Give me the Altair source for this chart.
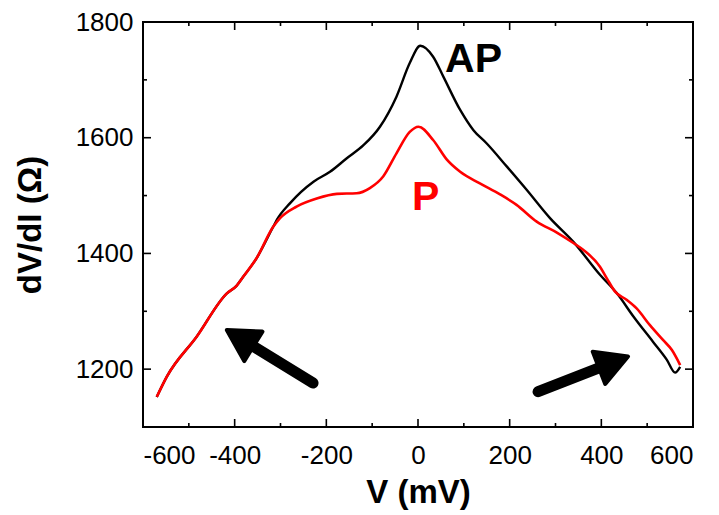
import altair as alt
import pandas as pd

# ---- data ----
v_ap = [-570, -548, -483, -417, -396, -381, -352, -316, -308, -279, -228, -192, -156, -119, -83, -47, -18, 5, 33, 55, 92, 121, 150, 194, 237, 288, 339, 397, 434, 470, 513, 543, 561, 572]
r_ap = [1152, 1187, 1256, 1331, 1344, 1360, 1392, 1446, 1458, 1487, 1524, 1541, 1564, 1587, 1619, 1671, 1729, 1759, 1740, 1706, 1648, 1613, 1590, 1550, 1510, 1461, 1420, 1363, 1331, 1291, 1247, 1216, 1194, 1204]

v_p = [-570, -548, -483, -417, -396, -381, -352, -316, -301, -265, -221, -177, -134, -105, -76, -47, -18, 1, 33, 63, 92, 135, 179, 215, 259, 303, 339, 361, 397, 412, 430, 455, 477, 506, 535, 554, 572]
r_p = [1152, 1187, 1256, 1331, 1344, 1360, 1392, 1446, 1461, 1481, 1495, 1503, 1504, 1513, 1533, 1573, 1610, 1619, 1596, 1562, 1541, 1521, 1502, 1484, 1455, 1436, 1418, 1406, 1377, 1357, 1334, 1320, 1305, 1276, 1250, 1233, 1207]

x_labels = [-600, -400, -200, 0, 200, 400, 600]
y_labels = [1200, 1400, 1600, 1800]
x_major = [-400, -200, 0, 200, 400]
x_minor = [-500, -300, -100, 100, 300, 500]
y_major = [1200, 1400, 1600]
y_minor = [1300, 1500, 1700]

label_text = ["AP", "P"]
label_v = [59, -13]
label_r = [1714, 1475]
label_color = ["black", "#ff0000"]

arrow_tail_v = [-229, 262]
arrow_tail_r = [1176, 1161]
arrow_head_v = [-385, 423]
arrow_head_r = [1252, 1211]
arrow_angle = [301.7, 68.8]

# ---- chart ----
W, H = 550, 405
FONT = "Liberation Sans"
MAJ, MIN = 8, 4

xs = alt.Scale(domain=[-600, 600], nice=False, zero=False)
ys = alt.Scale(domain=[1100, 1800], nice=False, zero=False)
xaxis = alt.Axis(values=x_labels, title="V (mV)", ticks=False, domain=False, grid=False,
                 labelExpr="'' + datum.value", labelPadding=15, titlePadding=8)
yaxis = alt.Axis(values=y_labels, title="dV/dI (Ω)", ticks=False, domain=False, grid=False,
                 labelExpr="'' + datum.value", labelPadding=10, titlePadding=28)


def X(f):
    return alt.X(f, type="quantitative", scale=xs, axis=xaxis)


def Y(f):
    return alt.Y(f, type="quantitative", scale=ys, axis=yaxis)


df_ap = pd.DataFrame({"V": v_ap, "R": r_ap})
df_p = pd.DataFrame({"V": v_p, "R": r_p})

line_ap = alt.Chart(df_ap).mark_line(color="black", strokeWidth=2.4, interpolate="monotone").encode(
    x=X("V"), y=Y("R"))
line_p = alt.Chart(df_p).mark_line(color="#ff0000", strokeWidth=2.6, interpolate="monotone").encode(
    x=X("V"), y=Y("R"))


def xticks(vals, ln):
    d = pd.DataFrame({"t": vals})
    bot = alt.Chart(d).mark_rule(color="black", strokeWidth=1.6).encode(
        x=X("t"), y=alt.value(H), y2=alt.value(H - ln))
    top = alt.Chart(d).mark_rule(color="black", strokeWidth=1.6).encode(
        x=X("t"), y=alt.value(0), y2=alt.value(ln))
    return [bot, top]


def yticks(vals, ln):
    d = pd.DataFrame({"t": vals})
    left = alt.Chart(d).mark_rule(color="black", strokeWidth=1.6).encode(
        y=Y("t"), x=alt.value(0), x2=alt.value(ln))
    right = alt.Chart(d).mark_rule(color="black", strokeWidth=1.6).encode(
        y=Y("t"), x=alt.value(W), x2=alt.value(W - ln))
    return [left, right]


tick_layers = xticks(x_major, MAJ) + xticks(x_minor, MIN) + yticks(y_major, MAJ) + yticks(y_minor, MIN)

df_lab = pd.DataFrame({"txt": label_text, "V": label_v, "R": label_r, "c": label_color})
labels = alt.Chart(df_lab).mark_text(align="left", baseline="alphabetic", fontSize=41,
                                     fontWeight="bold", font=FONT).encode(
    x=X("V"), y=Y("R"), text="txt:N", color=alt.Color("c:N", scale=None))

df_arr = pd.DataFrame({"tv": arrow_tail_v, "tr": arrow_tail_r, "hv": arrow_head_v,
                       "hr": arrow_head_r, "ang": arrow_angle})
shafts = alt.Chart(df_arr).mark_rule(color="black", strokeWidth=11, strokeCap="round").encode(
    x=X("tv"), y=Y("tr"), x2="hv:Q", y2="hr:Q")
heads = alt.Chart(df_arr).mark_point(shape="M0,-1L-1,0.8L1,0.8Z", size=1200, filled=True,
                                     fill="black", stroke="black", strokeWidth=4,
                                     strokeJoin="round", opacity=1).encode(
    x=X("hv"), y=Y("hr"), angle=alt.Angle("ang:Q", scale=None))

chart = alt.layer(line_ap, line_p, *tick_layers, labels, shafts, heads).properties(
    width=W, height=H,
    autosize=alt.AutoSizeParams(type="none"),
    padding={"left": 135, "top": 14, "right": 14, "bottom": 90},
).configure_view(stroke="black", strokeWidth=2).configure_axis(
    labelFont=FONT, labelFontSize=26, labelColor="black",
    titleFont=FONT, titleFontSize=33, titleFontWeight="bold", titleColor="black",
)

chart.save("out.html", embed_options={"renderer": "svg", "actions": False})
